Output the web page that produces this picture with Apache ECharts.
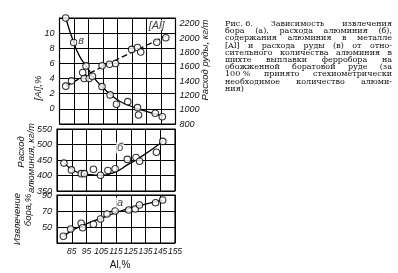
<!DOCTYPE html>
<html><head><meta charset="utf-8">
<script src="https://cdn.jsdelivr.net/npm/echarts@6/dist/echarts.min.js"></script>
<style>html,body{margin:0;padding:0;background:#fff}#c{width:398px;height:273px}</style>
</head><body><div id="c"></div>
<script>
// ---- data (x = relative Al amount, %) ----
const xMin = 75, xMax = 155, xStep = 10;
// top panel: [Al] content in metal, % (left axis)
const alPts = [[79.3,3.0],[83.3,3.7],[91,4.8],[92,4.0],[95.5,4.0],[97.7,4.3],[104.4,5.7],[109.5,5.9],[113.7,6.0],[124.8,7.85],[128.8,8.1],[131,7.5],[142.1,8.8],[148.3,9.4]];
const alCurve = [[79.3,3.0],[105,5.6],[148.3,9.6]];
// top panel: ore consumption (в), kg/t (right axis)
const orePts = [[79.3,2280],[84.8,1937],[93.3,1611],[104.3,1322],[109.9,1206],[114.3,1076],[122.1,1112],[128.8,1028],[129.5,926],[141,950],[145.9,902]];
const oreCurve = [[79.3,2280],[84.8,1937],[89,1740],[93.7,1600],[99,1440],[104.3,1320],[110,1215],[116,1125],[122,1065],[129,1015],[136,970],[142,935],[146.5,912]];
// middle panel: aluminium consumption (б), kg/t
const alConsPts = [[79.7,440],[84.8,418],[91.4,406],[93.6,406],[99.7,420],[104.5,401],[109.5,416],[114.4,422],[122.7,452],[128.6,458],[131,446],[142.4,475],[146.7,510]];
const alConsCurve = [[79.7,440],[88,412],[96.8,403],[104.5,400],[114.4,411],[123,435],[131.9,460],[146.7,510]];
// bottom panel: boron extraction (а), %
const boronPts = [[79.3,38.5],[84.3,47.5],[91.4,54.6],[92.4,49.1],[99.7,53.4],[104.5,60],[108.9,66.2],[114.4,70],[123.6,71.2],[128,72.5],[130.9,77.5],[141.8,80.4],[146.6,83.7]];
const boronCurve = [[79.3,38],[85,45.5],[95,54],[105,61],[115,68],[125,74],[135,78.5],[146.6,83.5]];
// curve letters
const topLetters = [{name:'в', value:[89.9,9.0]},{name:'[Al]', value:[142,11]}];
const midLetters = [{name:'б', value:[117.7,489]}];
const botLetters = [{name:'а', value:[117.7,80]}];
// axis tick settings
const leftTop = {min:-2, max:12, interval:2};
const rightTop = {min:800, max:2280, interval:200};
const midAxis = {min:350, max:550, interval:50};
const botAxis = {min:30, max:90, interval:20};
const captionLines = [
  ['Рис. 6.','Зависимость','извлечения'],
  ['бора','(а),','расхода','алюминия','(б),'],
  ['содержания','алюминия','в','металле'],
  ['[Al]','и','расхода','руды','(в)','от','отно-'],
  ['сительного','количества','алюминия','в'],
  ['шихте','выплавки','ферробора','на'],
  ['обожженной','боратовой','руде','(за'],
  ['100 %','принято','стехиометрически'],
  ['необходимое','количество','алюми-'],
  ['ния)']
];

const LBL = '"Liberation Sans Narrow", "Liberation Sans", sans-serif';
const ink = '#111';
const chart = echarts.init(document.getElementById('c'), null, {renderer:'canvas'});

const grids = [
  {left:59.5, top:18, width:116, height:106},
  {left:57, top:129, width:118, height:62},
  {left:57, top:195, width:118, height:48}
].map(g => Object.assign(g, {show:true, borderColor:'#000', borderWidth:1.2, backgroundColor:'transparent', containLabel:false}));

const split = {show:true, lineStyle:{color:'#000', width:1}};
const xAxes = [0,1,2].map(i => ({
  type:'value', gridIndex:i, min:xMin, max:xMax, interval:xStep,
  axisLine:{show:false}, axisTick:{show:false}, splitLine:split,
  axisLabel:{show:i===2, fontFamily:LBL, fontStyle:'italic', fontSize:8.5, color:ink, margin:4,
    showMinLabel:false, showMaxLabel:true, hideOverlap:false}
}));
const yl = {fontFamily:LBL, fontStyle:'italic', fontSize:9, color:ink, margin:5, formatter:v=>String(v)};
const yAxes = [
  Object.assign({type:'value', gridIndex:0, axisLine:{show:false}, axisTick:{show:false}, splitLine:split,
    axisLabel:Object.assign({}, yl, {showMinLabel:false, showMaxLabel:false})}, leftTop),
  Object.assign({type:'value', gridIndex:0, position:'right', axisLine:{show:false}, axisTick:{show:false}, splitLine:{show:false},
    axisLabel:Object.assign({}, yl, {showMaxLabel:false, margin:4})}, rightTop),
  Object.assign({type:'value', gridIndex:1, axisLine:{show:false}, axisTick:{show:false}, splitLine:split,
    axisLabel:Object.assign({}, yl, {showMinLabel:true, showMaxLabel:true})}, midAxis),
  Object.assign({type:'value', gridIndex:2, axisLine:{show:false}, axisTick:{show:false}, splitLine:split,
    axisLabel:Object.assign({}, yl, {showMinLabel:false, showMaxLabel:true})}, botAxis)
];

function curve(data, xi, yi, dashed){
  return {type:'line', xAxisIndex:xi, yAxisIndex:yi, data, smooth:true, symbol:'none', silent:true,
    lineStyle:{color:'#000', width:1.3, type: dashed ? [6,3] : 'solid'}, z:3};
}
function pts(data, xi, yi){
  return {type:'scatter', xAxisIndex:xi, yAxisIndex:yi, data, symbol:'circle', symbolSize:6.5,
    itemStyle:{color:'#fff', borderColor:'#000', borderWidth:1.1}, z:5};
}
function letters(data, xi, yi){
  return {type:'scatter', xAxisIndex:xi, yAxisIndex:yi, data, symbolSize:0, z:6,
    label:{show:true, position:'inside', formatter:p=>p.name, fontFamily:LBL, fontStyle:'italic', fontSize:11, color:ink, backgroundColor:'#fff', padding:[0,1]}};
}

// caption (justified lines)
const capFont = '8px "DejaVu Serif", "Liberation Serif", serif';
const capL = 225, capR = 392, capTop = 24, capLH = 7.2;
const meas = document.createElement('canvas').getContext('2d');
meas.font = capFont;
const graphics = [];
captionLines.forEach((words, i) => {
  const y = capTop + i*capLH;
  const widths = words.map(w => meas.measureText(w).width);
  const last = i === captionLines.length - 1;
  let gap = meas.measureText(' ').width;
  if (!last && words.length > 1) gap = Math.max(gap, (capR - capL - widths.reduce((a,b)=>a+b,0)) / (words.length - 1));
  let x = capL;
  words.forEach((w, j) => {
    graphics.push({type:'text', x, y, silent:true, style:{text:w, font:capFont, fill:'#111', verticalAlign:'middle', align:'left'}});
    x += widths[j] + gap;
  });
});
const titleFont = 'italic 9.5px ' + LBL;
function vtext(text, x, y){
  graphics.push({type:'text', x, y, rotation:Math.PI/2, silent:true,
    style:{text, font:titleFont, fill:ink, align:'center', verticalAlign:'middle'}});
}
vtext('[Al],%', 38, 88);
vtext('Расход руды, кг/т', 205, 60);
vtext('Расход', 21, 152);
vtext('алюминия, кг/т', 31, 158);
vtext('Извлечение', 17, 219);
vtext('бора,%', 28, 210);
graphics.push({type:'text', x:120, y:265, silent:true, style:{text:'Al,%', font:'10px '+LBL, fill:ink, align:'center', verticalAlign:'middle'}});

chart.setOption({
  animation:false,
  backgroundColor:'#fff',
  grid:grids, xAxis:xAxes, yAxis:yAxes,
  series:[
    curve(alCurve,0,0,true), pts(alPts,0,0),
    curve(oreCurve,0,1,false), pts(orePts,0,1),
    letters(topLetters,0,0),
    curve(alConsCurve,1,2,false), pts(alConsPts,1,2), letters(midLetters,1,2),
    curve(boronCurve,2,3,false), pts(boronPts,2,3), letters(botLetters,2,3)
  ],
  graphic:graphics
});
</script></body></html>
